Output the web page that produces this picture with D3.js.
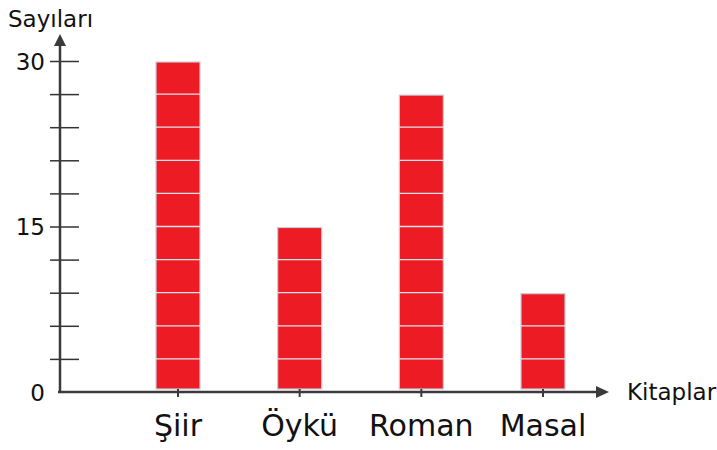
<!DOCTYPE html>
<html>
<head>
<meta charset="utf-8">
<script src="https://cdn.jsdelivr.net/npm/d3@7"></script>
<style>
  body { margin: 0; background: #fff; }
  svg text { font-family: "Comic Sans MS", "DejaVu Sans", sans-serif; fill: #111; }
</style>
</head>
<body>
<svg id="vis" width="717" height="450"></svg>
<script>
// data
const books = ["Şiir", "Öykü", "Roman", "Masal"];
const counts = [30, 15, 27, 9];
const yTicks = [0, 3, 6, 9, 12, 15, 18, 21, 24, 27, 30];
const yLabels = [0, 15, 30];
const step = 3; // one square = 3 books

const svg = d3.select("svg#vis");

const x = d3.scalePoint().domain(books).range([178, 543]);
const y = d3.scaleLinear().domain([0, 30]).range([392, 61]);
const barWidth = 44;
const axisX = 60;

// y axis ticks (lines crossing the axis, labels only at 0, 15, 30)
const yAxis = d3.axisLeft(y)
  .tickValues(yTicks)
  .tickFormat(d => yLabels.includes(d) ? d : "");

const gy = svg.append("g")
  .attr("transform", `translate(${axisX},0)`)
  .call(yAxis);

gy.select(".domain").remove();
gy.selectAll(".tick line")
  .attr("x1", -10)
  .attr("x2", 19)
  .attr("stroke", "#333")
  .attr("stroke-width", 1.5)
  .filter(d => d === 0).remove();
gy.selectAll(".tick text")
  .attr("x", -15)
  .attr("dy", "0.36em")
  .style("font-size", "23px")
  .style("font-family", null)
  .attr("fill", "#111");

// bars, split into squares of 3
const bars = svg.append("g").selectAll("g.bar")
  .data(books.map((b, i) => ({ name: b, value: counts[i] })))
  .join("g")
  .attr("class", "bar");

bars.append("rect")
  .attr("x", d => x(d.name) - barWidth / 2)
  .attr("y", d => y(d.value) + 1)
  .attr("width", barWidth)
  .attr("height", d => y(0) - 3 - y(d.value) - 1)
  .attr("fill", "#ed1c24")
  .attr("stroke", "#c9cbdc")
  .attr("stroke-width", 1.2);

bars.selectAll("line.split")
  .data(d => d3.range(step, d.value, step).map(v => ({ name: d.name, v: v })))
  .join("line")
  .attr("class", "split")
  .attr("x1", d => x(d.name) - barWidth / 2)
  .attr("x2", d => x(d.name) + barWidth / 2)
  .attr("y1", d => y(d.v))
  .attr("y2", d => y(d.v))
  .attr("stroke", "#e4e4ee")
  .attr("stroke-width", 1.3);

// axes lines with arrows
const axes = svg.append("g").attr("stroke", "#3a3a3a").attr("fill", "#3a3a3a");
axes.append("line")
  .attr("x1", axisX).attr("x2", axisX)
  .attr("y1", y(0) + 1).attr("y2", 42)
  .attr("stroke-width", 2.5);
axes.append("path")
  .attr("d", `M${axisX},34 L${axisX - 6},46 L${axisX + 6},46 Z`)
  .attr("stroke", "none");

axes.append("line")
  .attr("x1", axisX - 2).attr("x2", 600)
  .attr("y1", y(0)).attr("y2", y(0))
  .attr("stroke-width", 2.5);
axes.append("path")
  .attr("d", `M609,${y(0)} L596,${y(0) - 6} L596,${y(0) + 6} Z`)
  .attr("stroke", "none");

// x ticks under each bar
axes.selectAll("line.xtick")
  .data(books)
  .join("line")
  .attr("class", "xtick")
  .attr("x1", d => x(d)).attr("x2", d => x(d))
  .attr("y1", y(0) - 3).attr("y2", y(0) + 5)
  .attr("stroke-width", 2);

// category labels
svg.append("g").selectAll("text")
  .data(books)
  .join("text")
  .attr("x", d => x(d))
  .attr("y", 436)
  .attr("text-anchor", "middle")
  .style("font-size", "30px")
  .text(d => d);

// axis titles
svg.append("text")
  .attr("x", 8).attr("y", 27)
  .style("font-size", "23px")
  .text("Sayıları");

svg.append("text")
  .attr("x", 627).attr("y", 400)
  .style("font-size", "23px")
  .text("Kitaplar");
</script>
</body>
</html>
